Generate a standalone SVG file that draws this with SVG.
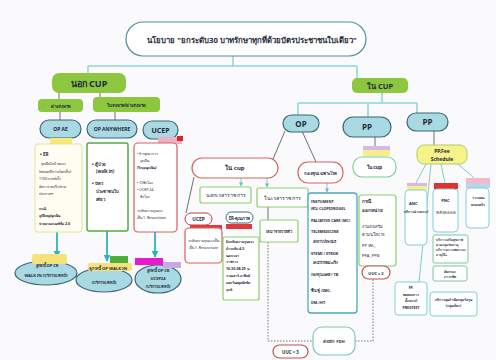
<svg xmlns="http://www.w3.org/2000/svg" width="496" height="360" viewBox="0 0 496 360">
<defs>
<marker id="ah" viewBox="0 0 10 10" refX="9" refY="5" markerWidth="4" markerHeight="4" orient="auto"><path d="M0,0 L10,5 L0,10 z" fill="#27b5c0"/></marker>
<marker id="ahs" viewBox="0 0 10 10" refX="9" refY="5" markerWidth="5" markerHeight="5" orient="auto"><path d="M0,0 L10,5 L0,10 z" fill="#5fbfc8"/></marker>
</defs>
<style>
text{font-family:"Noto Sans","DejaVu Sans",sans-serif;fill:#1f2b3a;text-anchor:middle}
.b{font-weight:bold}
.l{text-anchor:start}
.ln{stroke:#8fd4da;stroke-width:1.5;fill:none}
.dk{stroke:#333;stroke-width:0.7;fill:none}
.ta{stroke:#27b5c0;stroke-width:1.8;fill:none;marker-end:url(#ah)}
.ts{stroke:#5fbfc8;stroke-width:0.8;fill:none;marker-end:url(#ahs)}
.tl{stroke:#5fbfc8;stroke-width:0.8;fill:none}
.dash{stroke:#555;stroke-width:0.8;fill:none;stroke-dasharray:1.5 1.5}
.pill{fill:#a9d9e2;stroke:#3b6676;stroke-width:1.2}
.gcup{fill:#8dc63f}
.gb{fill:#fff;stroke:#8ccf6a;stroke-width:1.2}
.rb{fill:#fff;stroke:#d56060;stroke-width:1.2}
.cb{fill:#fff;stroke:#7fcfd6;stroke-width:1}
.s3{font-size:3.6px}
.s4{font-size:4.3px}
.s5{font-size:5.2px}
</style>
<rect width="496" height="360" fill="#fafafc"/>

<g id="connectors">
<path class="ln" d="M233,56 V66 M88,66 H357 M88,66 V73 M357,66 V78"/>
<path class="ln" d="M382,93 V103 M298,103 H417 M298,103 V115 M368,103 V117 M417,103 V113"/>
<path class="dk" d="M59,93 V99 M100,93 V97 M60,112 V120 M115,112 V120"/>
<path class="ta" d="M57,232 V257"/>
<path class="ta" d="M107,231 V261"/>
<path class="ta" d="M155,232 V257"/>
<path class="dk" d="M375,137 V146 M434,131 V145"/>
<path class="dk" d="M285,131 L273,159 M302,131 L316,162 M194,177 L186,213 M268,207 V220"/>
<path class="ts" d="M241,178 V186"/>
<path class="ts" d="M267,178 V187"/>
<path class="ts" d="M327,183 V192"/>
<path class="tl" d="M426,164 L416,183 M441,164 L445,183 M458,164 L474,178 M431,164 L419,282"/>
<path class="dash" d="M268,242 V341 H313 M355,341 H373 V279"/>
</g>

<g id="title">
<rect x="126" y="22" width="240" height="34" rx="17" fill="#fff" stroke="#4e8f98" stroke-width="1.2"/>
<text x="252" y="43" class="b" font-size="7.8">นโยบาย "ยกระดับ30 บาทรักษาทุกที่ด้วยบัตรประชาชนใบเดียว"</text>
</g>

<g id="nok-cup">
<rect x="52" y="73" width="74" height="20" rx="7" class="gcup"/>
<text x="89" y="87" class="b" font-size="9">นอก CUP</text>
</g>
<g id="tang-changwat">
<rect x="38" y="99" width="45" height="13" rx="4" class="gcup"/>
<text x="60.5" y="107.5" class="s4 b">ต่างจังหวัด</text>
</g>
<g id="nai-changwat">
<rect x="93" y="97" width="67" height="15" rx="4" class="gcup"/>
<text x="126.5" y="106.5" class="s4 b">ในจังหวัด/ต่างจังหวัด</text>
</g>

<g id="op-ae">
<rect x="40" y="120" width="41" height="18" rx="9" class="pill"/>
<text x="60.5" y="131" class="b" font-size="5">OP AE</text>
<rect x="50" y="138" width="22" height="6" fill="#f6e87a"/>
<rect x="35" y="144" width="47" height="88" rx="3" fill="#fffdf2" stroke="#dfe49a" stroke-width="1"/>
<text x="40" y="156" class="l b" font-size="4.6">• ER</text>
<text x="41" y="165" class="l s3" fill="#444">ฉุกเฉินไม่ร้ายแรง</text>
<text x="39" y="173" class="l s3" fill="#444">(หน่วยบริการเรียกเก็บ)</text>
<text x="39" y="180" class="l s3" fill="#444">1100 บาท/ครั้ง</text>
<text x="39" y="188" class="l s3" fill="#444">อัตราจ่ายจริง/ตาม</text>
<text x="39" y="195" class="l s3" fill="#444">ประกาศฯ</text>
<text x="39" y="210" class="l s3 b">กรณี</text>
<text x="39" y="217" class="l s3 b">อุบัติเหตุ/ฉุกเฉิน</text>
<text x="39" y="225" class="l s3 b">จ่ายตามเกณฑ์ข้อ 2.0</text>
</g>

<g id="op-anywhere">
<rect x="87" y="120" width="50" height="18" rx="9" class="pill"/>
<text x="112" y="131" class="b" font-size="5">OP ANYWHERE</text>
<rect x="87" y="143" width="41" height="88" rx="2" fill="#fff" stroke="#5aa84a" stroke-width="1.5"/>
<text x="92" y="166" class="l b s4">• ผู้ป่วย</text>
<text x="96" y="173" class="l b s4">(walk in)</text>
<text x="92" y="185" class="l b s4">• บัตร</text>
<text x="96" y="193" class="l b s4">ประชาชนใบ</text>
<text x="96" y="201" class="l b s4">เดียว</text>
</g>

<g id="ucep-out">
<rect x="143" y="121" width="35" height="18" rx="9" class="pill"/>
<text x="160.5" y="133" class="b" font-size="7">UCEP</text>
<rect x="158" y="137" width="24" height="7" fill="#eeb0c4"/>
<rect x="177" y="136" width="6" height="5" fill="#e02424"/>
<rect x="134" y="143" width="43" height="89" rx="4" class="rb"/>
<text x="137" y="155" class="l s3">• 6 กลุ่มอาการ</text>
<text x="140" y="162" class="l s3">ฉุกเฉิน</text>
<text x="137" y="169" class="l s3 b">(วิกฤตฉุกเฉิน)</text>
<text x="137" y="184" class="l s3" fill="#3a6ab0">• 72ชั่วโมง</text>
<text x="137" y="191" class="l s3" fill="#3a6ab0">• UCEP 24</text>
<text x="140" y="198" class="l s3" fill="#3a6ab0">ชั่วโมง</text>
<text x="137" y="212" class="l s3">ระดับความรุนแรง</text>
<text x="137" y="219" class="l s3">เป็น 1. Resuscitate</text>
</g>

<g id="debtor-1">
<ellipse cx="46" cy="273" rx="31" ry="12" class="pill"/>
<rect x="32" y="254" width="35" height="10" rx="2" fill="#f6e27a"/>
<text x="47" y="267" class="b" font-size="4">ลูกหนี้ OP CR</text>
<text x="46" y="277" class="b" font-size="4">WALK IN (บริการแพทย์)</text>
</g>
<g id="debtor-2">
<ellipse cx="104" cy="280" rx="28" ry="12" class="pill"/>
<rect x="110" y="256" width="18" height="7" fill="#4caf3c"/>
<rect x="88" y="263" width="44" height="8" rx="2" fill="#f6e27a"/>
<text x="108" y="269.5" class="b" font-size="4.2">ลูกหนี้ OP WALK IN</text>
<text x="104" y="284" class="b" font-size="4">(บริการแพทย์)</text>
</g>
<g id="debtor-3">
<ellipse cx="158" cy="279" rx="23" ry="14" class="pill"/>
<rect x="135" y="258" width="28" height="7" fill="#e81ad0"/>
<rect x="163" y="262" width="18" height="6" fill="#c9a8e8"/>
<text x="158" y="272" class="b" font-size="4">ลูกหนี้ OP CR</text>
<text x="158" y="280" class="b" font-size="4">UCEP24</text>
<text x="158" y="288" class="b" font-size="4">(บริการแพทย์)</text>
</g>

<g id="nai-cup-main">
<rect x="352" y="78" width="56" height="15" rx="5" class="gcup"/>
<text x="380" y="88.5" class="b" font-size="7.5">ใน CUP</text>
</g>
<g id="op">
<rect x="283" y="115" width="36" height="17" rx="8.5" class="pill"/>
<text x="301" y="126.5" class="b" font-size="8">OP</text>
</g>
<g id="pp1">
<rect x="343" y="117" width="48" height="20" rx="10" class="pill"/>
<text x="367" y="130" class="b" font-size="8">PP</text>
</g>
<g id="pp2">
<rect x="407" y="113" width="41" height="18" rx="9" class="pill"/>
<text x="427.5" y="125" class="b" font-size="8">PP</text>
</g>

<g id="op-nai-cup">
<rect x="192" y="158" width="86" height="20" rx="10" class="rb"/>
<text x="235" y="170" class="b" font-size="6">ใน cup</text>
</g>
<g id="nok-wela">
<rect x="200" y="187" width="51" height="16" rx="2" class="gb"/>
<text x="225.5" y="197" class="s5" fill="#333">นอกเวลาราชการ</text>
</g>
<g id="nai-wela">
<rect x="257" y="188" width="51" height="19" rx="2" class="gb"/>
<text x="282.5" y="199.5" class="s5" fill="#333">ในเวลาราชการ</text>
</g>
<g id="ucep-in">
<rect x="185" y="213" width="27" height="12" rx="6" fill="#fff" stroke="#c04040" stroke-width="1"/>
<text x="198.5" y="221" class="b" font-size="4.8">UCEP</text>
<rect x="190" y="225" width="32" height="5" fill="#e03b3b"/>
<rect x="185" y="228" width="37" height="35" rx="4" class="rb"/>
<text x="203.5" y="242" class="s3">ระดับความรุนแรงเป็น</text>
<text x="203.5" y="249" class="s3">เป็น 1. Resuscitate</text>
</g>
<g id="er-quality">
<rect x="226" y="212" width="27" height="11" rx="5.5" fill="#fff" stroke="#3b6676" stroke-width="1"/>
<text x="239.5" y="219.5" class="b" font-size="4.3">ER-คุณภาพ</text>
<rect x="226" y="224" width="26" height="5" fill="#e03b3b"/>
<rect x="223" y="237" width="36" height="63" rx="2" class="gb"/>
<text x="226" y="243" class="l s3 b">มีระดับความรุนแรง</text>
<text x="226" y="250" class="l s3 b">ต่ำระดับ 4-5</text>
<text x="226" y="257" class="l s3 b">นอกเวลา</text>
<text x="226" y="263" class="l s3 b">ราชการ</text>
<text x="226" y="270" class="l s3 b">16.30-08.29 น.</text>
<text x="226" y="277" class="l s3 b">รวมเสาร์-อาทิตย์</text>
<text x="226" y="284" class="l s3 b">และวันหยุดนักขัต</text>
<text x="226" y="291" class="l s3 b">ฤกษ์</text>
</g>
<g id="capitation">
<rect x="260" y="220" width="38" height="22" rx="2" class="gb"/>
<text x="279" y="233" class="b" font-size="4">เหมาจ่ายรายหัว</text>
</g>

<g id="disease-fund">
<rect x="298" y="162" width="45" height="21" rx="10" class="rb"/>
<text x="320.5" y="174.5" class="b" font-size="4.4">กองทุนเฉพาะโรค</text>
</g>
<g id="disease-list">
<rect x="308" y="193" width="49" height="120" rx="3" fill="#fff" stroke="#4ba8c0" stroke-width="1.3"/>
<text x="311" y="203" class="l b" font-size="3.8">INSTUMENT</text>
<text x="311" y="210" class="l b" font-size="3.8">เช่น CLOPIDROGEL</text>
<text x="311" y="222" class="l b" font-size="3.8">PALIATIVE CARE (MC)</text>
<text x="311" y="233" class="l b" font-size="3.8">TELEMEDICINE</text>
<text x="313" y="243" class="l b" font-size="3.8">ส่งยาไปรษณีย์</text>
<text x="311" y="255" class="l b" font-size="3.8">STEMI / STROK</text>
<text x="313" y="264" class="l b" font-size="3.8">เคมีบำบัดมะเร็ง</text>
<text x="311" y="276" class="l b" font-size="3.8">กองทุนเอดส์ / TB</text>
<text x="311" y="292" class="l b" font-size="3.8">ฟื้นฟู /IMC.</text>
<text x="311" y="304" class="l b" font-size="3.8">DM./HT.</text>
</g>
<g id="fdh">
<rect x="313" y="327" width="42" height="28" rx="9" fill="#fff" stroke="#7cc8b8" stroke-width="1.2"/>
<text x="334" y="343" class="b" font-size="4.2">ส่งเบิก FDH</text>
</g>
<g id="uuc3">
<rect x="273" y="345" width="35" height="13" rx="6.5" fill="#fff" stroke="#c05050" stroke-width="1.2"/>
<text x="290.5" y="353.5" class="b" font-size="4.4">UUC = 3</text>
</g>

<g id="pp-nai-cup">
<rect x="363" y="146" width="27" height="4" fill="#d7b8e8"/>
<rect x="363" y="150" width="27" height="6" fill="#f4ef88"/>
<rect x="353" y="157" width="43" height="20" rx="9" fill="#fff" stroke="#7ccf9a" stroke-width="1.2"/>
<text x="374.5" y="169" class="b" font-size="5">ใน cup</text>
</g>
<g id="outreach">
<rect x="359" y="195" width="37" height="71" rx="3" class="gb"/>
<text x="362" y="203" class="l b" font-size="4.6">กรณี</text>
<text x="362" y="212" class="l b" font-size="4.6">ออกหน่วย</text>
<text x="362" y="228" class="l" font-size="4.2">งานส่งเสริม</text>
<text x="362" y="236" class="l" font-size="4.2">ตามนโยบาย</text>
<text x="362" y="247" class="l" font-size="4.2">PP WL,</text>
<text x="362" y="257" class="l" font-size="4.2">PPA ,PPB</text>
</g>
<g id="uuc2">
<rect x="362" y="266" width="28" height="13" rx="6.5" fill="#fff" stroke="#c05050" stroke-width="1.2"/>
<text x="376" y="274.5" class="b" font-size="4">UUC = 2</text>
</g>

<g id="fee-schedule">
<rect x="417" y="145" width="50" height="19" rx="7" fill="#f7f28a" stroke="#a8d060" stroke-width="1"/>
<text x="442" y="153" class="b" font-size="5" fill="#2a4a7a">PP.Fee</text>
<text x="442" y="161" class="b" font-size="5" fill="#2a4a7a">Schedule</text>
</g>
<g id="anc">
<rect x="407" y="183" width="20" height="3" fill="#d7b8e8"/>
<rect x="407" y="186" width="20" height="4" fill="#f4ef88"/>
<rect x="405" y="190" width="22" height="55" rx="4" class="cb"/>
<text x="409" y="205" class="l b" font-size="4">ANC</text>
<text x="416" y="213" class="b" font-size="3.3">บริการฝากครรภ์</text>
</g>
<g id="pnc">
<rect x="434" y="183" width="24" height="6" fill="#e03030"/>
<rect x="433" y="189" width="25" height="43" rx="4" class="cb"/>
<text x="445.5" y="202" class="b" font-size="4">PNC</text>
<text x="445.5" y="214" font-size="4.2" fill="#3a7ab0">หลังคลอด</text>
</g>
<g id="family-planning">
<rect x="466" y="178" width="24" height="5" fill="#f4b8c8"/>
<rect x="466" y="183" width="24" height="5" fill="#b8d4ee"/>
<rect x="466" y="188" width="23" height="40" rx="4" class="cb"/>
<text x="477.5" y="199" class="b" font-size="3.6">วางแผน</text>
<text x="477.5" y="206" class="b" font-size="3.6">ครอบครัว</text>
</g>
<g id="screening">
<rect x="433" y="235" width="35" height="28" rx="2" fill="#fff" stroke="#7cc8a0" stroke-width="1"/>
<text x="436" y="241" class="l b" font-size="3">บริการเสริมสุขภาพ</text>
<text x="436" y="246" class="l b" font-size="3">ตามกลุ่มวัยต่างๆ</text>
<text x="436" y="251" class="l b" font-size="3">บริการตรวจคัดกรอง</text>
<text x="436" y="256" class="l b" font-size="3">อายุ35+</text>
</g>
<g id="anemia">
<rect x="433" y="266" width="34" height="15" rx="2" fill="#fff" stroke="#7cc8a0" stroke-width="1"/>
<text x="450" y="272.5" class="b" font-size="3.4">คัดกรอง</text>
<text x="450" y="278" class="b" font-size="3.4">ภาวะซีด</text>
</g>
<g id="fp">
<rect x="395" y="282" width="32" height="33" rx="3" class="cb"/>
<text x="411" y="289" class="b" font-size="3.5">FP.</text>
<text x="411" y="296" class="b" font-size="3.5">ทดสอบการ</text>
<text x="411" y="302" class="b" font-size="3.5">ตั้งครรภ์</text>
<text x="411" y="309" class="b" font-size="3.5">PREGTEST</text>
</g>
<g id="teen-contraception">
<rect x="430" y="292" width="47" height="24" rx="3" class="cb"/>
<text x="453.5" y="301" class="b" font-size="3.4">บริการคุมกำเนิดกลุ่มวัยรุ่น</text>
<text x="453.5" y="307" class="b" font-size="3.4">(กลุ่มเสี่ยง)</text>
</g>
</svg>
